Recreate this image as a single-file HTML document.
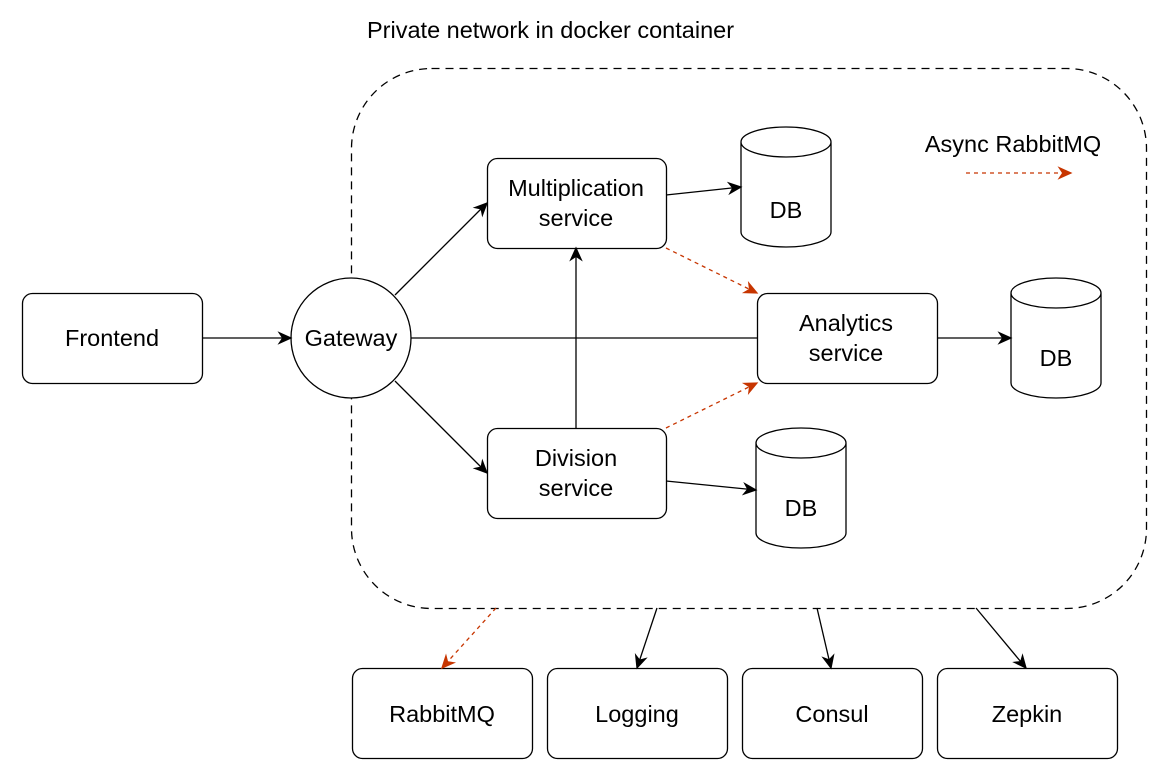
<!DOCTYPE html>
<html><head><meta charset="utf-8"><style>
html,body{margin:0;padding:0;background:#fff;}
svg{display:block;}
text{font-family:"Liberation Sans",sans-serif;font-size:23.5px;fill:#000;}
</style></head><body>
<svg width="1155" height="767" viewBox="0 0 1155 767" xmlns="http://www.w3.org/2000/svg">
<defs>
<marker id="a" viewBox="0 0 10 10" refX="9" refY="5" markerWidth="15" markerHeight="15" markerUnits="userSpaceOnUse" orient="auto"><path d="M0,0.5 L10,5 L0,9.5 L3,5 z" fill="#000"/></marker>
<marker id="r" viewBox="0 0 10 10" refX="9" refY="5" markerWidth="15" markerHeight="15" markerUnits="userSpaceOnUse" orient="auto"><path d="M0,0.5 L10,5 L0,9.5 L3,5 z" fill="#C73500"/></marker>
</defs>
<text x="367" y="38">Private network in docker container</text>
<rect x="351.5" y="68.5" width="795" height="540" rx="80" fill="none" stroke="#000" stroke-width="1.3" stroke-dasharray="8 6"/>
<g fill="#fff" stroke="#000" stroke-width="1.3">
<rect x="22.5" y="293.5" width="180" height="90" rx="10"/>
<circle cx="351" cy="338" r="60"/>
<rect x="487.5" y="158.5" width="179" height="90" rx="10"/>
<rect x="487.5" y="428.5" width="179" height="90" rx="10"/>
<rect x="757.5" y="293.5" width="180" height="90" rx="10"/>
<rect x="352.5" y="668.5" width="180" height="90" rx="10"/>
<rect x="547.5" y="668.5" width="180" height="90" rx="10"/>
<rect x="742.5" y="668.5" width="180" height="90" rx="10"/>
<rect x="937.5" y="668.5" width="180" height="90" rx="10"/>
<path d="M741,142 v90 a45,15 0 0 0 90,0 v-90 a45,15 0 0 0 -90,0 a45,15 0 0 0 90,0"/>
<path d="M1011,293 v90 a45,15 0 0 0 90,0 v-90 a45,15 0 0 0 -90,0 a45,15 0 0 0 90,0"/>
<path d="M756,443 v90 a45,15 0 0 0 90,0 v-90 a45,15 0 0 0 -90,0 a45,15 0 0 0 90,0"/>
</g>
<g stroke="#000" stroke-width="1.3" fill="none" marker-end="url(#a)">
<line x1="202" y1="338" x2="291" y2="338"/>
<line x1="395" y1="295" x2="487" y2="203"/>
<line x1="395" y1="381" x2="487" y2="473"/>
<line x1="576" y1="428" x2="576" y2="248"/>
<line x1="666" y1="195" x2="741" y2="187"/>
<line x1="666" y1="481" x2="756" y2="490"/>
<line x1="937" y1="338" x2="1011" y2="338"/>
<line x1="657" y1="608" x2="637" y2="668"/>
<line x1="817" y1="608" x2="831" y2="668"/>
<line x1="976" y1="608" x2="1026" y2="668"/>
</g>
<line x1="411" y1="338" x2="757" y2="338" stroke="#000" stroke-width="1.3"/>
<g stroke="#C73500" stroke-width="1.3" fill="none" stroke-dasharray="4 4" marker-end="url(#r)">
<line x1="666" y1="248" x2="757" y2="293"/>
<line x1="666" y1="428" x2="757" y2="383"/>
<line x1="496" y1="608" x2="442" y2="668"/>
<line x1="966" y1="173" x2="1071" y2="173"/>
</g>
<g text-anchor="middle">
<text x="112" y="346">Frontend</text>
<text x="351" y="346">Gateway</text>
<text x="576" y="196">Multiplication</text>
<text x="576" y="226">service</text>
<text x="576" y="466">Division</text>
<text x="576" y="496">service</text>
<text x="846" y="331">Analytics</text>
<text x="846" y="361">service</text>
<text x="786" y="218">DB</text>
<text x="1056" y="366">DB</text>
<text x="801" y="516">DB</text>
<text x="442" y="722">RabbitMQ</text>
<text x="637" y="722">Logging</text>
<text x="832" y="722">Consul</text>
<text x="1027" y="722">Zepkin</text>
<text x="1013" y="152">Async RabbitMQ</text>
</g>
</svg>
</body></html>
